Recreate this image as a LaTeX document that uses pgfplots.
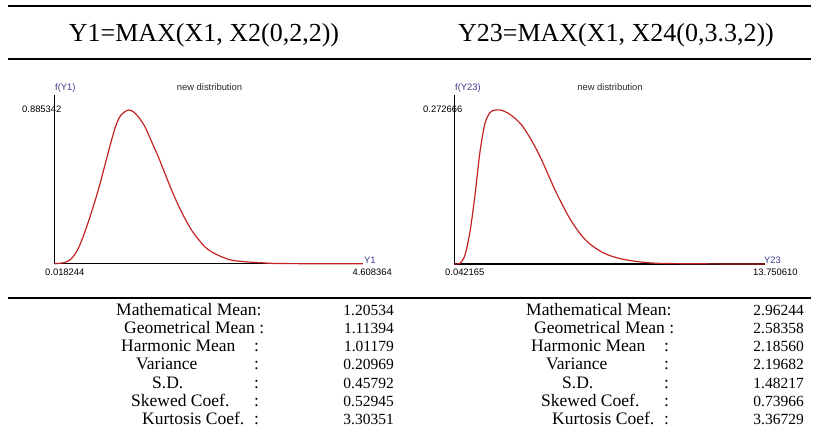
\documentclass[border=0pt]{standalone}
\usepackage{pgfplots}
\pgfplotsset{compat=1.18}
\usepackage{fontspec}
\setmainfont{Liberation Serif}
\newfontfamily\arial{Liberation Sans}
\definecolor{curve}{RGB}{195,35,35}
\definecolor{lab}{RGB}{60,60,140}
\definecolor{txt}{RGB}{40,40,40}
\begin{document}
\begin{tikzpicture}
\path[use as bounding box] (0,0) rectangle (815pt,-437pt);
% table rules
\draw[line width=2pt] (8pt,-6pt) -- (811pt,-6pt);
\draw[line width=2pt] (8pt,-58.7pt) -- (811pt,-58.7pt);
\draw[line width=1.8pt] (8pt,-298.3pt) -- (811pt,-298.3pt);
% titles
\node[anchor=base, inner sep=0pt, font=\fontsize{26}{26}\selectfont] at (204pt,-41.5pt) {Y1=MAX(X1, X2(0,2,2))};
\node[anchor=base, inner sep=0pt, font=\fontsize{26}{26}\selectfont] at (616pt,-41.5pt) {Y23=MAX(X1, X24(0,3.3,2))};
% plot texts
\begin{scope}[every node/.style={inner sep=0pt, font=\arial\fontsize{9.4}{10}\selectfont}]
\node[anchor=base west, lab] at (55pt,-90.3pt) {f(Y1)};
\node[anchor=base, txt] at (209.5pt,-90.5pt) {new distribution};
\node[anchor=base west] at (22pt,-112.7pt) {0.885342};
\node[anchor=base west] at (45pt,-275.5pt) {0.018244};
\node[anchor=base east] at (392pt,-275.5pt) {4.608364};
\node[anchor=base west, lab] at (364pt,-263.5pt) {Y1};
\node[anchor=base west, lab] at (455pt,-90.3pt) {f(Y23)};
\node[anchor=base, txt] at (610pt,-90.5pt) {new distribution};
\node[anchor=base west] at (423pt,-112.7pt) {0.272666};
\node[anchor=base west] at (445pt,-275.5pt) {0.042165};
\begin{scope}
\clip (700pt,-260pt) rectangle (797pt,-290pt);
\node[anchor=base west] at (753pt,-275.5pt) {13.750610};
\end{scope}
\node[anchor=base west, lab] at (764pt,-263.5pt) {Y23};
\end{scope}
% left plot
\begin{axis}[scale only axis, width=308.7pt, height=168.8pt,
  at={(54.3pt,-263.8pt)}, anchor=south west,
  xmin=0.018244, xmax=4.608364, ymin=0, ymax=0.97174,
  axis lines=left, axis line style={-, black, line width=1.2pt},
  xtick=\empty, ytick=\empty, clip=false]
\addplot[curve, line width=1.2pt, smooth, tension=0.5] coordinates {
(0.0182,0) (0.177,0.0079) (0.276,0.031) (0.375,0.0885) (0.474,0.1845)
(0.573,0.2997) (0.672,0.4245) (0.771,0.5685) (0.870,0.7125) (0.945,0.8086)
(1.019,0.8604) (1.118,0.8853) (1.192,0.8757) (1.266,0.8469) (1.366,0.7893)
(1.465,0.7029) (1.564,0.6165) (1.663,0.5205) (1.762,0.4245) (1.861,0.3381)
(1.960,0.2613) (2.059,0.1941) (2.158,0.1423) (2.257,0.0981) (2.356,0.0693)
(2.505,0.0405) (2.653,0.0213) (2.851,0.0117) (3.099,0.0059) (3.297,0.002)
(3.6,0.001) (4.0,0.0003) (4.608,0)};
\end{axis}
% right plot
\begin{axis}[scale only axis, width=310.7pt, height=169pt,
  at={(454.3pt,-264pt)}, anchor=south west,
  xmin=0.042165, xmax=13.750610, ymin=0, ymax=0.29922,
  axis lines=left, axis line style={-, black, line width=1.2pt},
  xtick=\empty, ytick=\empty, clip=false]
\addplot[curve, line width=1.2pt, smooth, tension=0.5] coordinates {
(0.042,0) (0.294,0.0012) (0.514,0.0159) (0.735,0.0572) (0.955,0.1222)
(1.176,0.1989) (1.396,0.2491) (1.617,0.2680) (1.838,0.2727) (2.132,0.2721)
(2.426,0.2668) (2.720,0.2579) (3.014,0.2461) (3.308,0.2284) (3.603,0.2077)
(3.897,0.1841) (4.191,0.1576) (4.485,0.1310) (4.779,0.1074) (5.073,0.0850)
(5.368,0.0661) (5.662,0.0502) (5.956,0.0378) (6.397,0.0248) (6.838,0.0159)
(7.427,0.0089) (8.162,0.0041) (9.044,0.0012) (11.1,0.0003) (13.75,0)};
\end{axis}
% statistics
\begin{scope}[every node/.style={inner sep=0pt, anchor=base west, font=\fontsize{17.5}{20}\selectfont}]
\foreach \dx/\a/\b/\c/\d/\e/\f/\g in {0/1.20534/1.11394/1.01179/0.20969/0.45792/0.52945/3.30351,
                                     410/2.96244/2.58358/2.18560/2.19682/1.48217/0.73966/3.36729}{
  \node at (116pt+\dx pt,-315pt) {Mathematical Mean:};
  \node at (124pt+\dx pt,-333.3pt) {Geometrical Mean :};
  \node at (121pt+\dx pt,-351.6pt) {Harmonic Mean};
  \node at (136pt+\dx pt,-369.9pt) {Variance};
  \node at (152pt+\dx pt,-388.2pt) {S.D.};
  \node at (131pt+\dx pt,-406.5pt) {Skewed Coef.};
  \node at (142pt+\dx pt,-424.8pt) {Kurtosis Coef.};
  \foreach \yy in {351.6,369.9,388.2,406.5,424.8}{\node at (254pt+\dx pt,-\yy pt) {:};}
  \begin{scope}[every node/.style={inner sep=0pt, anchor=base east, font=\fontsize{15.5}{18}\selectfont}]
  \node at (394pt+\dx pt,-315pt) {\a};
  \node at (394pt+\dx pt,-333.3pt) {\b};
  \node at (394pt+\dx pt,-351.6pt) {\c};
  \node at (394pt+\dx pt,-369.9pt) {\d};
  \node at (394pt+\dx pt,-388.2pt) {\e};
  \node at (394pt+\dx pt,-406.5pt) {\f};
  \node at (394pt+\dx pt,-424.8pt) {\g};
  \end{scope}
}
\end{scope}
\end{tikzpicture}
\end{document}
